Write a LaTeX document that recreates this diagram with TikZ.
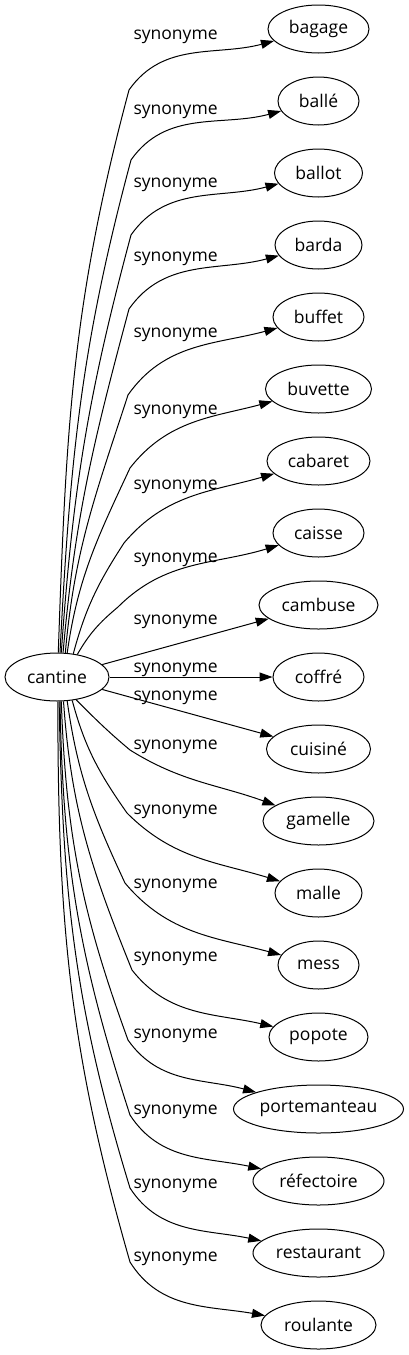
\documentclass[tikz,border=0pt]{standalone}
\usepackage{fontspec}
\setmainfont{Open Sans}
\usetikzlibrary{positioning,arrows.meta,shapes.geometric}
\tikzstyle{word} = [draw, ellipse, inner xsep=1pt, minimum height=48pt, font=\fontsize{17.5}{21}\selectfont]
\tikzstyle{syn} = [anchor=base west, inner sep=0pt, font=\fontsize{17.5}{21}\selectfont]

\begin{document}
\begin{tikzpicture}[->, >={Triangle[length=13pt,width=9pt]}, x=1pt, y=1pt, node distance=23pt, line width=1pt]
	\useasboundingbox (0,0) rectangle (409,-1355);
	% Nodes
	\node[word, minimum width=104pt] (cantine) at (57,-677) {cantine};
	\node[word, minimum width=101pt] (bagage) at (318.5,-29) {bagage};
	\node[word, minimum width=81pt]  (balle)        [below=of bagage]     {ballé};
	\node[word, minimum width=88pt]  (ballot)       [below=of balle]      {ballot};
	\node[word, minimum width=87pt]  (barda)        [below=of ballot]     {barda};
	\node[word, minimum width=91pt]  (buffet)       [below=of barda]      {buffet};
	\node[word, minimum width=106pt] (buvette)      [below=of buffet]     {buvette};
	\node[word, minimum width=103pt] (cabaret)      [below=of buvette]    {cabaret};
	\node[word, minimum width=91pt]  (caisse)       [below=of cabaret]    {caisse};
	\node[word, minimum width=119pt] (cambuse)      [below=of caisse]     {cambuse};
	\node[word, minimum width=91pt]  (coffre)       [below=of cambuse]    {coffré};
	\node[word, minimum width=104pt] (cuisine)      [below=of coffre]     {cuisiné};
	\node[word, minimum width=111pt] (gamelle)      [below=of cuisine]    {gamelle};
	\node[word, minimum width=87pt]  (malle)        [below=of gamelle]    {malle};
	\node[word, minimum width=81pt]  (mess)         [below=of malle]      {mess};
	\node[word, minimum width=99pt]  (popote)       [below=of mess]       {popote};
	\node[word, minimum width=170pt] (portemanteau) [below=of popote]     {portemanteau};
	\node[word, minimum width=131pt] (refectoire)   [below=of portemanteau] {réfectoire};
	\node[word, minimum width=131pt] (restaurant)   [below=of refectoire] {restaurant};
	\node[word, minimum width=115pt] (roulante)     [below=of restaurant] {roulante};
	% Arrows with a bend
	\foreach \w/\a/\oa/\ia/\kx/\ky/\ob/\ib/\ly in {
		bagage/87/88/255/129/90/55/195/39,
		balle/83/87/255/131/160/55/195/114,
		ballot/80/86/255/131/235/55/195/187,
		barda/76/85/255/129/309/55/195/261,
		buffet/71/85/252/128/395/55/195/337,
		buvette/67/82/245/130/468/52/195/414,
		cabaret/55/75/237/124/543/50/196/489,
		caisse/48/60/220/118/607/45/197/562,
		gamelle/-50/-45/140/130/750/-32/160/749,
		malle/-57/-75/125/127/813/-45/163/814,
		mess/-67/-82/115/125/883/-50/165/888,
		popote/-75/-86/112/132/970/-52/167/961,
		portemanteau/-80/-88/110/128/1040/-55/165/1038,
		refectoire/-83/-89/108/130/1115/-57/168/1114,
		restaurant/-85/-89/107/130/1188/-57/168/1188,
		roulante/-88/-90/106/130/1262/-58/170/1261}{
		\coordinate (k\w) at (\kx,-\ky);
		\node[syn] (s\w) at (133,-\ly) {synonyme};
		\draw (cantine.\a) to[out=\oa,in=\ia] (k\w) to[out=\ob,in=\ib] (\w);
	}
	% Straight arrows
	\node[syn] (scambuse) at (133,-624) {synonyme};
	\node[syn] (scoffre)  at (133,-672) {synonyme};
	\node[syn] (scuisine) at (133,-700) {synonyme};
	\path
	(cantine) edge (cambuse)
	(cantine) edge (coffre)
	(cantine) edge (cuisine)
	;
\end{tikzpicture}
\end{document}
